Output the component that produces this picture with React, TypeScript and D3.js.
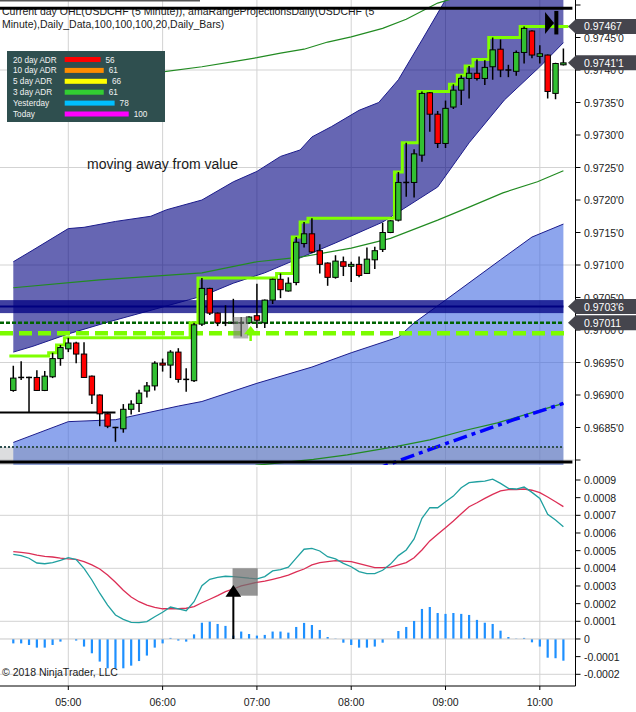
import React from 'react';
import * as d3 from 'd3';

// 5 minute bars, first bar closes 04:25
const startTime = new Date(2018, 0, 1, 4, 25);
const barMinutes = 5;

const opens = [
  0.96907, 0.96927, 0.96927, 0.96927, 0.96907, 0.96928, 0.96956, 0.96971, 0.96980, 0.96963,
  0.96929, 0.96900, 0.96871, 0.96850, 0.96848, 0.96878, 0.96887, 0.96906, 0.96914, 0.96949,
  0.96946, 0.96966, 0.96924, 0.96922, 0.97009, 0.97064, 0.97026, 0.97011, 0.97011, 0.97011,
  0.97011, 0.97022, 0.97011, 0.97046, 0.97078, 0.97060, 0.97073, 0.97133, 0.97148, 0.97122,
  0.97103, 0.97081, 0.97105, 0.97098, 0.97101, 0.97087, 0.97108, 0.97124, 0.97150, 0.97169,
  0.97227, 0.97227, 0.97269, 0.97365, 0.97332, 0.97287, 0.97343, 0.97369, 0.97387, 0.97395,
  0.97387, 0.97405, 0.97432, 0.97400, 0.97398, 0.97427, 0.97460, 0.97421, 0.97423, 0.97364,
  0.97408,
];
const highs = [
  0.96945, 0.96952, 0.96928, 0.96938, 0.96937, 0.96965, 0.96977, 0.96988, 0.96982, 0.96981,
  0.96930, 0.96901, 0.96874, 0.96851, 0.96886, 0.96892, 0.96908, 0.96920, 0.96952, 0.96956,
  0.96969, 0.96972, 0.96941, 0.97011, 0.97080, 0.97065, 0.97027, 0.97038, 0.97048, 0.97020,
  0.97021, 0.97071, 0.97047, 0.97079, 0.97087, 0.97081, 0.97143, 0.97166, 0.97172, 0.97132,
  0.97104, 0.97115, 0.97113, 0.97105, 0.97113, 0.97127, 0.97128, 0.97165, 0.97169, 0.97243,
  0.97288, 0.97278, 0.97367, 0.97366, 0.97337, 0.97353, 0.97378, 0.97392, 0.97406, 0.97416,
  0.97415, 0.97450, 0.97447, 0.97408, 0.97430, 0.97467, 0.97461, 0.97438, 0.97424, 0.97411,
  0.97433,
];
const lows = [
  0.96905, 0.96923, 0.96873, 0.96906, 0.96906, 0.96926, 0.96945, 0.96966, 0.96949, 0.96926,
  0.96886, 0.96852, 0.96849, 0.96828, 0.96842, 0.96870, 0.96874, 0.96896, 0.96907, 0.96936,
  0.96926, 0.96919, 0.96905, 0.96920, 0.97006, 0.97023, 0.97006, 0.97006, 0.97009, 0.96990,
  0.97010, 0.97003, 0.97003, 0.97040, 0.97049, 0.97059, 0.97069, 0.97127, 0.97118, 0.97087,
  0.97068, 0.97079, 0.97083, 0.97074, 0.97081, 0.97086, 0.97094, 0.97120, 0.97149, 0.97167,
  0.97205, 0.97204, 0.97259, 0.97305, 0.97280, 0.97280, 0.97340, 0.97346, 0.97356, 0.97384,
  0.97377, 0.97385, 0.97389, 0.97389, 0.97391, 0.97410, 0.97418, 0.97410, 0.97356, 0.97355,
  0.97407,
];
const closes = [
  0.96926, 0.96927, 0.96927, 0.96907, 0.96929, 0.96956, 0.96973, 0.96980, 0.96963, 0.96927,
  0.96900, 0.96871, 0.96852, 0.96850, 0.96878, 0.96886, 0.96903, 0.96914, 0.96949, 0.96946,
  0.96966, 0.96924, 0.96924, 0.97008, 0.97064, 0.97026, 0.97011, 0.97011, 0.97011, 0.97011,
  0.97020, 0.97015, 0.97046, 0.97078, 0.97062, 0.97072, 0.97135, 0.97148, 0.97120, 0.97101,
  0.97081, 0.97106, 0.97098, 0.97101, 0.97084, 0.97109, 0.97122, 0.97150, 0.97168, 0.97227,
  0.97227, 0.97271, 0.97364, 0.97332, 0.97287, 0.97341, 0.97369, 0.97387, 0.97395, 0.97387,
  0.97404, 0.97431, 0.97400, 0.97400, 0.97427, 0.97464, 0.97423, 0.97425, 0.97367, 0.97410,
  0.97411,
];

// session high before the first visible bar
const priorHigh = 0.9696;

// range projection bands, [bar index, price]
const darkBandTop: [number, number][] = [
  [0, 0.97105], [2.5, 0.97123], [7, 0.97156], [9, 0.97158], [13, 0.97167], [17.5, 0.97175],
  [19.5, 0.97185], [24, 0.972], [28, 0.97228], [31, 0.97244], [34, 0.97267], [36.5, 0.97277],
  [38, 0.97297], [40.5, 0.97313], [44, 0.97338], [46.5, 0.9735], [49, 0.97385], [52, 0.97446],
  [55, 0.97508], [70, 0.977],
];
const darkBandBottom: [number, number][] = [
  [0, 0.96966], [2.5, 0.96975], [7, 0.96994], [12, 0.97012], [24, 0.97052], [28, 0.97072],
  [32, 0.97088], [36.5, 0.97111], [41, 0.97134], [47, 0.97166], [54, 0.9722], [58, 0.97288],
  [62.5, 0.97354], [67, 0.97405], [70, 0.97442],
];
const lightBandTop: [number, number][] = [
  [0, 0.96827], [7, 0.96859], [13, 0.96862], [21, 0.96883], [24, 0.9689], [31, 0.96918],
  [38, 0.96943], [43, 0.96965], [49, 0.96989], [51, 0.97011], [55, 0.97046], [62, 0.97108],
  [66, 0.97143], [70, 0.97163],
];
const upperAverage: [number, number][] = [
  [0, 0.9737], [10, 0.97384], [19, 0.97397], [24, 0.97405], [28, 0.97413], [31, 0.97419],
  [34, 0.97426], [37, 0.97432], [40, 0.97443], [43, 0.97451], [47, 0.97464], [50, 0.97478],
  [54, 0.97503], [70, 0.9756],
];
const middleAverage: [number, number][] = [
  [0, 0.97065], [11, 0.97077], [24, 0.97088], [31, 0.97105], [36.5, 0.97112], [43, 0.97126],
  [48, 0.97141], [54, 0.97169], [58, 0.97189], [62.3, 0.97211], [66.7, 0.97228], [70, 0.97245],
];
const lowerAverage: [number, number][] = [
  [28, 0.96786], [31, 0.96792], [38.2, 0.96801], [42.5, 0.96808], [48.8, 0.96821], [53, 0.96831],
  [57.3, 0.96845], [61.6, 0.96857], [65.8, 0.96872], [70, 0.96887],
];
const trendProjection: [number, number][] = [
  [46, 0.96785], [47.5, 0.96792], [55.2, 0.96826], [63.7, 0.96862], [70, 0.96887],
];

// horizontal levels
const projectionHigh = 0.97495;
const projectionLow = 0.96797;
const pivotLevel = 0.97036;
const pivotZone = [0.97026, 0.97046];
const priorLevel = 0.97011;
const openLevel = 0.96995;
const valueLow = 0.9682;
const overnightLow = 0.96873;
const overnightLowEndBar = 13;

// MACD panel, in units of 0.0001
const macdLine = [
  4.79, 4.72, 4.57, 4.3, 4.26, 4.32, 4.45, 4.6, 4.49, 4.0,
  3.34, 2.59, 1.92, 1.36, 1.11, 0.94, 0.92, 0.98, 1.26, 1.51,
  1.81, 1.7, 1.6, 2.11, 3.02, 3.38, 3.49, 3.55, 3.53, 3.49,
  3.44, 3.4, 3.53, 3.85, 3.92, 4.07, 4.58, 5.08, 5.13, 4.98,
  4.66, 4.53, 4.28, 4.09, 3.81, 3.7, 3.7, 3.89, 4.24, 4.72,
  5.04, 5.66, 6.83, 7.43, 7.43, 7.77, 8.09, 8.56, 8.85, 8.9,
  8.94, 9.05, 8.81, 8.53, 8.49, 8.6, 8.3, 7.96, 7.06, 6.73, 6.36,
];
const signalLine = [
  4.94, 4.9, 4.85, 4.75, 4.68, 4.64, 4.58, 4.54, 4.51, 4.38,
  4.19, 3.96, 3.62, 3.21, 2.76, 2.38, 2.11, 1.92, 1.79, 1.71,
  1.71, 1.71, 1.74, 1.83, 2.05, 2.25, 2.45, 2.68, 2.83, 3.0,
  3.11, 3.21, 3.27, 3.38, 3.49, 3.62, 3.8, 3.96, 4.19, 4.32,
  4.38, 4.43, 4.41, 4.38, 4.26, 4.15, 4.04, 4.04, 4.07, 4.19,
  4.32, 4.6, 5.04, 5.55, 5.93, 6.3, 6.68, 7.09, 7.49, 7.71,
  7.96, 8.19, 8.38, 8.45, 8.45, 8.49, 8.42, 8.28, 8.04, 7.77, 7.49,
];
const histogram = [
  -0.25, -0.25, -0.34, -0.49, -0.49, -0.34, -0.15, 0, -0.09, -0.43,
  -0.81, -1.28, -1.66, -1.66, -1.66, -1.51, -1.25, -0.94, -0.49, -0.25,
  0.06, -0.09, -0.15, 0.26, 0.92, 0.98, 0.85, 0.74, 0.19, 0.42,
  0.28, 0.19, 0.23, 0.42, 0.42, 0.36, 0.68, 0.91, 0.79, 0.51,
  0.11, 0.02, -0.21, -0.34, -0.49, -0.49, -0.43, -0.21, 0, 0.45,
  0.68, 1.02, 1.7, 1.81, 1.47, 1.42, 1.47, 1.42, 1.36, 1.08,
  0.92, 0.85, 0.47, 0.11, 0.02, 0.06, -0.19, -0.43, -1.06, -1.09, -1.23,
];

// ADR legend
const adrLabels = ['20 day ADR', '10 day ADR', '5 day ADR', '3 day ADR', 'Yesterday', 'Today'];
const adrValues = [56, 61, 66, 61, 78, 100];
const adrColors = ['#ff0000', '#ff8c00', '#ffff00', '#32cd32', '#00bfff', '#ff00ff'];

// axes
const priceTicks = [0.975, 0.9745, 0.974, 0.9735, 0.973, 0.9725, 0.972, 0.9715, 0.971, 0.9705, 0.97, 0.9695, 0.969, 0.9685, 0.968];
const priceGrid = [0.974, 0.9725, 0.971, 0.9695, 0.968];
const macdTicks = [0.0009, 0.0008, 0.0007, 0.0006, 0.0005, 0.0004, 0.0003, 0.0002, 0.0001, 0, -0.0001, -0.0002];
const macdGrid = [0.0007, 0.0004, 0.0001, -0.0002];
const tagPrices = [0.97467, 0.97411, 0.97036, 0.97011];
const tagLabels = ['0.97467', "0.9741'1", "0.9703'6", '0.97011'];

// drawn objects
const priceBox = { fromBar: 28, toBar: 29.9, hi: 0.9702, lo: 0.96987 };
const priceArrow = { bar: 30.2, from: 0.96983, to: 0.97003 };
const macdBox = { fromBar: 27.9, toBar: 31.1, hi: 0.0004, lo: 0.000245 };
const macdArrow = { bar: 28, from: 0, to: 0.000296 };

const title1 = 'Current day OHL(USDCHF (5 Minute)), amaRangeProjectionsDaily(USDCHF (5';
const title2 = 'Minute),Daily_Data,100,100,100,20,Daily_Bars)';

const FONT = "'Liberation Sans', Arial, sans-serif";
const AXIS_X = 575.5;
const TOP_BOTTOM = 465;
const LOW_TOP = 467;
const LOW_BOTTOM = 686;
const UP = '#32c032';
const DOWN = '#ff0000';

const barTime = (i: number) => new Date(startTime.getTime() + i * barMinutes * 60000);
const lastBar = closes.length - 1;
const x = d3.scaleTime().domain([barTime(0), barTime(lastBar)]).range([13.3, 563.4]);
const xb = (i: number) => x(barTime(i));
const half = (xb(1) - xb(0)) / 2;
const y = d3.scaleLinear().domain([0.9685, 0.9745]).range([427.5, 37.5]);
const ym = d3.scaleLinear().domain([-0.0002, 0.0009]).range([674.3, 480]);
const adrScale = d3.scaleLinear().domain([0, 100]).range([0, 64]);

const knotLine = d3.line<[number, number]>().x(d => xb(d[0])).y(d => y(d[1]));
const bandPath = (top: [number, number][], bottom: [number, number][]) =>
  knotLine([...top, ...[...bottom].reverse()]) + 'Z';

const upArrow = (ax: number, tip: number, tail: number, hw: number, hh: number) =>
  `M${ax},${tail}L${ax},${tip + hh}M${ax - hw},${tip + hh}L${ax},${tip}L${ax + hw},${tip + hh}Z`;

export default function App() {
  // running session high as a step line
  let run = priorHigh;
  const stepPts: [number, number][] = highs.map((h, i) => {
    run = Math.max(run, h);
    return [xb(i) - half, y(run)];
  });
  stepPts.push([xb(lastBar) + 5, y(run)]);
  const stepPath = d3.line().curve(d3.curveStepAfter)(stepPts) || '';

  const macdPath = d3.line<number>().x((_, i) => xb(i)).y(d => ym(d * 1e-4))(macdLine) || '';
  const signalPath = d3.line<number>().x((_, i) => xb(i)).y(d => ym(d * 1e-4))(signalLine) || '';

  const hours = x.ticks(d3.timeHour.every(1) as d3.TimeInterval);
  const fmtTime = d3.timeFormat('%H:%M');

  const hLine = (p: number, x1: number, x2: number) => ({ x1, x2, y1: y(p), y2: y(p) });
  const lineEnd = xb(lastBar);
  const dayHigh = d3.max(highs) as number;

  const pbX1 = xb(priceBox.fromBar), pbX2 = xb(priceBox.toBar);
  const mbX1 = xb(macdBox.fromBar), mbX2 = xb(macdBox.toBar);

  return (
    <svg width={636} height={712} style={{ position: 'absolute', left: 0, top: 0, background: '#fff' }} fontFamily={FONT}>
      <defs>
        <clipPath id="topClip"><rect x={0} y={0} width={AXIS_X} height={TOP_BOTTOM} /></clipPath>
        <clipPath id="lowClip"><rect x={0} y={LOW_TOP} width={AXIS_X} height={LOW_BOTTOM - LOW_TOP} /></clipPath>
      </defs>
      <rect x={0} y={0} width={636} height={712} fill="#fff" />

      {/* grid */}
      {hours.map(h => (
        <g key={'g' + h.getTime()} stroke="#d3d3d3" strokeWidth={1}>
          <line x1={x(h)} x2={x(h)} y1={0} y2={TOP_BOTTOM} />
          <line x1={x(h)} x2={x(h)} y1={LOW_TOP} y2={LOW_BOTTOM} />
        </g>
      ))}
      {priceGrid.map(p => <line key={'pg' + p} x1={0} x2={AXIS_X} y1={y(p)} y2={y(p)} stroke="#d3d3d3" />)}
      {macdGrid.map(v => <line key={'mg' + v} x1={0} x2={AXIS_X} y1={ym(v)} y2={ym(v)} stroke="#d3d3d3" />)}

      <g clipPath="url(#topClip)">
        {/* projection bands */}
        <path d={bandPath(lightBandTop, [[0, 0.9675], [lastBar, 0.9675]])} fill="#4169e1" fillOpacity={0.6} />
        <path d={knotLine(lightBandTop) || ''} fill="none" stroke="#1c1c8c" strokeWidth={1} />
        <path d={bandPath(darkBandTop, darkBandBottom)} fill="#000080" fillOpacity={0.6} />
        <path d={knotLine(darkBandTop) || ''} fill="none" stroke="#1c1c8c" strokeWidth={1} />
        <path d={knotLine(darkBandBottom) || ''} fill="none" stroke="#1c1c8c" strokeWidth={1} />
        <rect x={0} y={y(valueLow)} width={lineEnd} height={TOP_BOTTOM - y(valueLow)} fill="#8a9096" fillOpacity={0.3} />

        {/* averages */}
        <path d={knotLine(upperAverage) || ''} fill="none" stroke="#228b22" strokeWidth={1.2} />
        <path d={knotLine(middleAverage) || ''} fill="none" stroke="#228b22" strokeWidth={1.2} />
        <path d={knotLine(lowerAverage) || ''} fill="none" stroke="#228b22" strokeWidth={1.2} />
        <path d={knotLine(trendProjection) || ''} fill="none" stroke="#0000ff" strokeWidth={3.5} strokeDasharray="14,5,4,5" />

        {/* levels */}
        <rect x={0} y={y(pivotZone[1])} width={lineEnd} height={y(pivotZone[0]) - y(pivotZone[1])} fill="#000080" fillOpacity={0.75} />
        <line {...hLine(pivotLevel, 0, lineEnd)} stroke="#000080" strokeWidth={2} />
        <line {...hLine(priorLevel, 0, lineEnd)} stroke="#006400" strokeWidth={2.5} strokeDasharray="4,2" />
        <line {...hLine(valueLow, 0, lineEnd)} stroke="#2f4f4f" strokeWidth={2} strokeDasharray="2,2" />
        <line {...hLine(openLevel, 0, lineEnd + 6)} stroke="#7cfc00" strokeWidth={4.5} strokeDasharray="13,6" />
        <line {...hLine(overnightLow, 0, xb(overnightLowEndBar))} stroke="#000" strokeWidth={2} />

        {/* session high */}
        <path d={stepPath} fill="none" stroke="#7fff00" strokeWidth={3} />

        {/* candles */}
        {opens.map((o, i) => {
          const c = closes[i];
          const cx = xb(i);
          const top = y(Math.max(o, c));
          const bot = y(Math.min(o, c));
          const fill = c > o ? UP : c < o ? DOWN : null;
          return (
            <g key={'c' + i}>
              <line x1={cx} x2={cx} y1={y(highs[i])} y2={y(lows[i])} stroke="#000" strokeWidth={1.5} />
              {fill ? (
                <rect x={cx - 2.7} y={top} width={5.4} height={Math.max(bot - top, 1.5)} fill={fill} stroke="#000" strokeWidth={1} />
              ) : (
                <line x1={cx - 3} x2={cx + 3} y1={top} y2={top} stroke="#000" strokeWidth={1.5} />
              )}
            </g>
          );
        })}

        {/* drawn objects */}
        <rect x={pbX1} y={y(priceBox.hi)} width={pbX2 - pbX1} height={y(priceBox.lo) - y(priceBox.hi)} fill="#808080" fillOpacity={0.6} />
        <path d={upArrow(xb(priceArrow.bar), y(priceArrow.to), y(priceArrow.from), 4, 5)} fill="#7cfc00" stroke="#7cfc00" strokeWidth={2.5} />

        <path
          d={`M${xb(69) - 10.5},${y(dayHigh) - 14.5}L${xb(69) - 1.5},${y(dayHigh) - 3.5}L${xb(69) - 10.5},${y(dayHigh) + 7.5}Z`}
          fill="#000"
        />
        <rect x={xb(69) - 1.2} y={y(dayHigh) - 15.5} width={4} height={23.5} fill="#000" />

        {/* projection limits */}
        <text x={2} y={15} fontSize={10.5} fill="#1a1a1a">{title1}</text>
        <text x={2} y={27.5} fontSize={10.5} fill="#1a1a1a">{title2}</text>
        <line {...hLine(projectionHigh, 0, lineEnd + 9)} stroke="#000" strokeWidth={3} />
        <line {...hLine(projectionLow, 0, lineEnd + 9)} stroke="#000" strokeWidth={3} />
      </g>

      <rect x={0} y={0} width={200} height={1.5} fill="#555" />

      {/* ADR legend */}
      <g>
        <rect x={7} y={51} width={158} height={71} fill="#2f4f4f" />
        {adrLabels.map((lab, i) => {
          const cy = 59.5 + i * 10.9;
          const w = adrScale(adrValues[i]);
          return (
            <g key={lab}>
              <text x={13} y={cy + 3} fontSize={8.2} fill="#f2f2f2">{lab}</text>
              <rect x={64.7} y={cy - 2.5} width={w} height={5} fill={adrColors[i]} />
              <text x={64.7 + w + 5} y={cy + 3} fontSize={8.2} fill="#f2f2f2">{adrValues[i]}</text>
            </g>
          );
        })}
      </g>

      <text x={87} y={169} fontSize={14} fill="#1a1a1a">moving away from value</text>

      {/* MACD panel */}
      <g clipPath="url(#lowClip)">
        {histogram.map((v, i) => (
          <rect key={'h' + i} x={xb(i) - 1.1} y={Math.min(ym(v * 1e-4), ym(0))} width={2.2}
            height={Math.abs(ym(v * 1e-4) - ym(0))} fill="#1e90ff" />
        ))}
        <line x1={0} x2={AXIS_X} y1={ym(0)} y2={ym(0)} stroke="#c8c8c8" />
        <path d={signalPath} fill="none" stroke="#dc2e55" strokeWidth={1.3} />
        <path d={macdPath} fill="none" stroke="#20a0a0" strokeWidth={1.3} />
        <rect x={mbX1} y={ym(macdBox.hi)} width={mbX2 - mbX1} height={ym(macdBox.lo) - ym(macdBox.hi)} fill="#707070" fillOpacity={0.75} />
        <path d={upArrow(xb(macdArrow.bar), ym(macdArrow.to), ym(macdArrow.from), 6, 9)} fill="#000" stroke="#000" strokeWidth={2} />
      </g>
      <text x={2} y={676} fontSize={10.5} fill="#1a1a1a">© 2018 NinjaTrader, LLC</text>

      {/* axes */}
      <line x1={AXIS_X} x2={AXIS_X} y1={0} y2={LOW_BOTTOM} stroke="#000" />
      <line x1={0} x2={AXIS_X} y1={LOW_BOTTOM} y2={LOW_BOTTOM} stroke="#000" />
      {priceTicks.map(p => (
        <g key={'pt' + p}>
          <line x1={AXIS_X} x2={AXIS_X + 5} y1={y(p)} y2={y(p)} stroke="#000" />
          {p >= 0.96849 && p <= 0.97451 && (
            <text x={584} y={y(p) + 4} fontSize={10.5} fill="#1a1a1a">{p.toFixed(4) + "'0"}</text>
          )}
        </g>
      ))}
      {macdTicks.map(v => (
        <g key={'mt' + v}>
          <line x1={AXIS_X} x2={AXIS_X + 5} y1={ym(v)} y2={ym(v)} stroke="#000" />
          <text x={584} y={ym(v) + 4} fontSize={10.5} fill="#1a1a1a">{v === 0 ? '0' : v.toFixed(4)}</text>
        </g>
      ))}
      {hours.map(h => (
        <g key={'xt' + h.getTime()}>
          <line x1={x(h)} x2={x(h)} y1={LOW_BOTTOM} y2={LOW_BOTTOM + 4} stroke="#000" />
          <text x={x(h)} y={706} fontSize={10.5} textAnchor="middle" fill="#1a1a1a">{fmtTime(h)}</text>
        </g>
      ))}

      {/* price tags */}
      {tagPrices.map((p, i) => {
        const py = y(p);
        return (
          <g key={'tag' + i}>
            <path d={`M568,${py}L576,${py - 7.5}L636,${py - 7.5}L636,${py + 7.5}L576,${py + 7.5}Z`} fill="#45454d" />
            <text x={584} y={py + 4} fontSize={10.5} fill="#fff">{tagLabels[i]}</text>
          </g>
        );
      })}
    </svg>
  );
}
